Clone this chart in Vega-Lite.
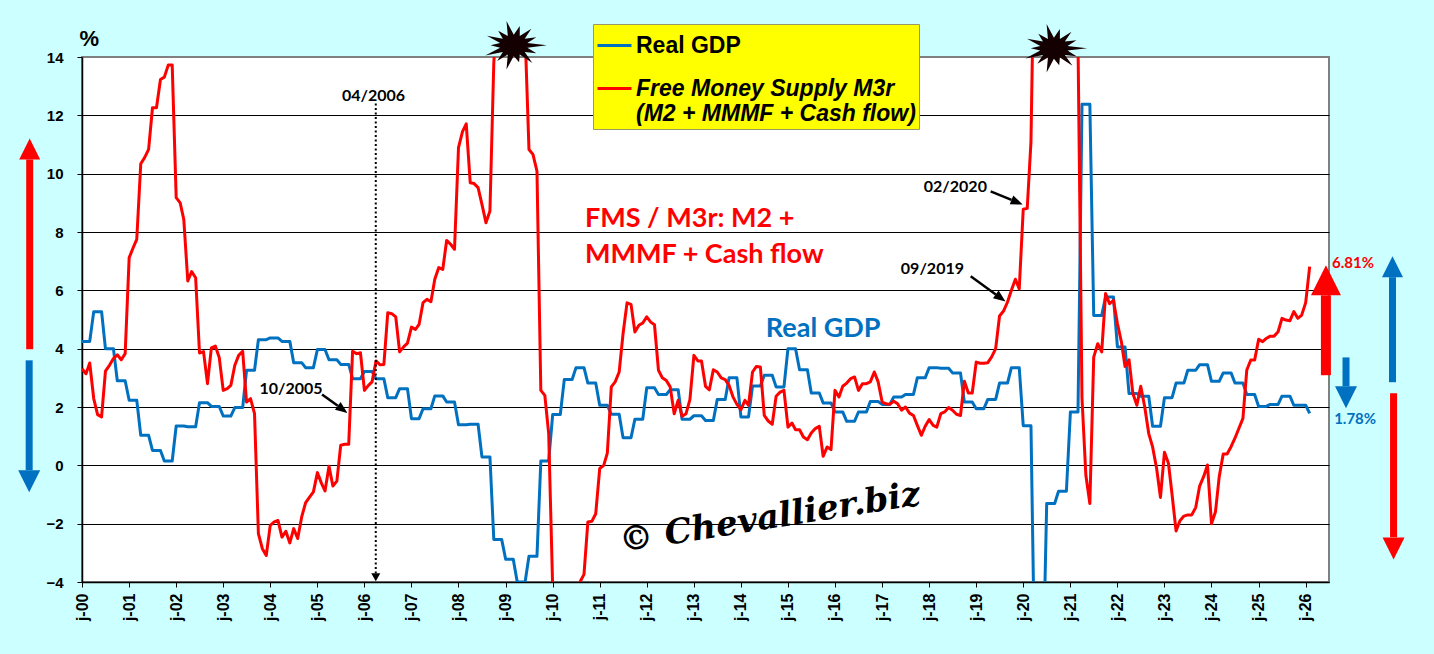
{
  "$schema": "https://vega.github.io/schema/vega-lite/v6.json",
  "width": 1247,
  "height": 525,
  "autosize": {"type": "none"},
  "padding": {"left": 82, "top": 57, "right": 105, "bottom": 72},
  "datasets": {
    "series": [
      {"m":"2000-01","gdp":4.25,"fms":3.31},{"m":"2000-02","gdp":4.25,"fms":3.14},{"m":"2000-03","gdp":4.25,"fms":3.51},
      {"m":"2000-04","gdp":5.27,"fms":2.29},{"m":"2000-05","gdp":5.27,"fms":1.74},{"m":"2000-06","gdp":5.27,"fms":1.66},
      {"m":"2000-07","gdp":4.0,"fms":3.23},{"m":"2000-08","gdp":4.0,"fms":3.43},{"m":"2000-09","gdp":4.0,"fms":3.66},
      {"m":"2000-10","gdp":2.9,"fms":3.79},{"m":"2000-11","gdp":2.9,"fms":3.62},{"m":"2000-12","gdp":2.9,"fms":3.83},
      {"m":"2001-01","gdp":2.23,"fms":7.12},{"m":"2001-02","gdp":2.23,"fms":7.46},{"m":"2001-03","gdp":2.23,"fms":7.75},
      {"m":"2001-04","gdp":1.03,"fms":10.34},{"m":"2001-05","gdp":1.03,"fms":10.55},{"m":"2001-06","gdp":1.03,"fms":10.83},
      {"m":"2001-07","gdp":0.51,"fms":12.26},{"m":"2001-08","gdp":0.51,"fms":12.26},{"m":"2001-09","gdp":0.51,"fms":13.23},
      {"m":"2001-10","gdp":0.15,"fms":13.31},{"m":"2001-11","gdp":0.15,"fms":13.73},{"m":"2001-12","gdp":0.15,"fms":13.73},
      {"m":"2002-01","gdp":1.35,"fms":9.18},{"m":"2002-02","gdp":1.35,"fms":9.0},{"m":"2002-03","gdp":1.35,"fms":8.43},
      {"m":"2002-04","gdp":1.32,"fms":6.32},{"m":"2002-05","gdp":1.32,"fms":6.64},{"m":"2002-06","gdp":1.32,"fms":6.43},
      {"m":"2002-07","gdp":2.15,"fms":3.85},{"m":"2002-08","gdp":2.15,"fms":3.9},{"m":"2002-09","gdp":2.15,"fms":2.8},
      {"m":"2002-10","gdp":2.02,"fms":4.03},{"m":"2002-11","gdp":2.02,"fms":4.09},{"m":"2002-12","gdp":2.02,"fms":3.7},
      {"m":"2003-01","gdp":1.69,"fms":2.57},{"m":"2003-02","gdp":1.69,"fms":2.63},{"m":"2003-03","gdp":1.69,"fms":2.74},
      {"m":"2003-04","gdp":1.98,"fms":3.43},{"m":"2003-05","gdp":1.98,"fms":3.77},{"m":"2003-06","gdp":1.98,"fms":3.91},
      {"m":"2003-07","gdp":3.26,"fms":2.17},{"m":"2003-08","gdp":3.26,"fms":2.29},{"m":"2003-09","gdp":3.26,"fms":1.77},
      {"m":"2003-10","gdp":4.31,"fms":-2.34},{"m":"2003-11","gdp":4.31,"fms":-2.86},{"m":"2003-12","gdp":4.31,"fms":-3.09},
      {"m":"2004-01","gdp":4.37,"fms":-2.06},{"m":"2004-02","gdp":4.37,"fms":-1.94},{"m":"2004-03","gdp":4.37,"fms":-1.89},
      {"m":"2004-04","gdp":4.25,"fms":-2.46},{"m":"2004-05","gdp":4.25,"fms":-2.26},{"m":"2004-06","gdp":4.25,"fms":-2.66},
      {"m":"2004-07","gdp":3.52,"fms":-2.17},{"m":"2004-08","gdp":3.52,"fms":-2.51},{"m":"2004-09","gdp":3.52,"fms":-1.77},
      {"m":"2004-10","gdp":3.35,"fms":-1.29},{"m":"2004-11","gdp":3.35,"fms":-1.09},{"m":"2004-12","gdp":3.35,"fms":-0.91},
      {"m":"2005-01","gdp":3.97,"fms":-0.25},{"m":"2005-02","gdp":3.97,"fms":-0.61},{"m":"2005-03","gdp":3.97,"fms":-0.88},
      {"m":"2005-04","gdp":3.62,"fms":-0.03},{"m":"2005-05","gdp":3.62,"fms":-0.71},{"m":"2005-06","gdp":3.62,"fms":-0.54},
      {"m":"2005-07","gdp":3.46,"fms":0.69},{"m":"2005-08","gdp":3.46,"fms":0.72},{"m":"2005-09","gdp":3.46,"fms":0.72},
      {"m":"2005-10","gdp":2.97,"fms":3.91},{"m":"2005-11","gdp":2.97,"fms":3.83},{"m":"2005-12","gdp":2.97,"fms":3.86},
      {"m":"2006-01","gdp":3.22,"fms":2.57},{"m":"2006-02","gdp":3.22,"fms":2.74},{"m":"2006-03","gdp":3.22,"fms":2.86},
      {"m":"2006-04","gdp":2.97,"fms":3.58},{"m":"2006-05","gdp":2.97,"fms":3.45},{"m":"2006-06","gdp":2.97,"fms":3.46},
      {"m":"2006-07","gdp":2.32,"fms":5.23},{"m":"2006-08","gdp":2.32,"fms":5.2},{"m":"2006-09","gdp":2.32,"fms":5.09},
      {"m":"2006-10","gdp":2.63,"fms":3.89},{"m":"2006-11","gdp":2.63,"fms":4.06},{"m":"2006-12","gdp":2.63,"fms":4.19},
      {"m":"2007-01","gdp":1.6,"fms":4.74},{"m":"2007-02","gdp":1.6,"fms":4.66},{"m":"2007-03","gdp":1.6,"fms":4.83},
      {"m":"2007-04","gdp":1.94,"fms":5.58},{"m":"2007-05","gdp":1.94,"fms":5.69},{"m":"2007-06","gdp":1.94,"fms":5.61},
      {"m":"2007-07","gdp":2.38,"fms":6.38},{"m":"2007-08","gdp":2.38,"fms":6.78},{"m":"2007-09","gdp":2.38,"fms":6.72},
      {"m":"2007-10","gdp":2.17,"fms":7.71},{"m":"2007-11","gdp":2.17,"fms":7.58},{"m":"2007-12","gdp":2.17,"fms":7.41},
      {"m":"2008-01","gdp":1.39,"fms":10.89},{"m":"2008-02","gdp":1.39,"fms":11.44},{"m":"2008-03","gdp":1.39,"fms":11.71},
      {"m":"2008-04","gdp":1.41,"fms":9.69},{"m":"2008-05","gdp":1.41,"fms":9.66},{"m":"2008-06","gdp":1.41,"fms":9.52},
      {"m":"2008-07","gdp":0.29,"fms":8.95},{"m":"2008-08","gdp":0.29,"fms":8.32},{"m":"2008-09","gdp":0.29,"fms":8.72},
      {"m":"2008-10","gdp":-2.54,"fms":13.8},{"m":"2008-11","gdp":-2.54,"fms":16},{"m":"2008-12","gdp":-2.54,"fms":18},
      {"m":"2009-01","gdp":-3.22,"fms":18.5},{"m":"2009-02","gdp":-3.22,"fms":18.5},{"m":"2009-03","gdp":-3.22,"fms":18},
      {"m":"2009-04","gdp":-4.0,"fms":17.5},{"m":"2009-05","gdp":-4.0,"fms":16.5},{"m":"2009-06","gdp":-4.0,"fms":14.8},
      {"m":"2009-07","gdp":-3.12,"fms":10.83},{"m":"2009-08","gdp":-3.12,"fms":10.66},{"m":"2009-09","gdp":-3.12,"fms":10.09},
      {"m":"2009-10","gdp":0.15,"fms":2.57},{"m":"2009-11","gdp":0.15,"fms":2.4},{"m":"2009-12","gdp":0.15,"fms":1.09},
      {"m":"2010-01","gdp":1.74,"fms":-4.2},{"m":"2010-02","gdp":1.74,"fms":-6},{"m":"2010-03","gdp":1.74,"fms":-7},
      {"m":"2010-04","gdp":2.94,"fms":-7},{"m":"2010-05","gdp":2.94,"fms":-6.5},{"m":"2010-06","gdp":2.94,"fms":-6},
      {"m":"2010-07","gdp":3.35,"fms":-5},{"m":"2010-08","gdp":3.35,"fms":-4.0},{"m":"2010-09","gdp":3.35,"fms":-3.74},
      {"m":"2010-10","gdp":2.82,"fms":-1.94},{"m":"2010-11","gdp":2.82,"fms":-1.92},{"m":"2010-12","gdp":2.82,"fms":-1.66},
      {"m":"2011-01","gdp":2.06,"fms":-0.11},{"m":"2011-02","gdp":2.06,"fms":0.0},{"m":"2011-03","gdp":2.06,"fms":0.42},
      {"m":"2011-04","gdp":1.75,"fms":2.69},{"m":"2011-05","gdp":1.75,"fms":2.86},{"m":"2011-06","gdp":1.75,"fms":3.2},
      {"m":"2011-07","gdp":0.95,"fms":4.51},{"m":"2011-08","gdp":0.95,"fms":5.57},{"m":"2011-09","gdp":0.95,"fms":5.52},
      {"m":"2011-10","gdp":1.58,"fms":4.57},{"m":"2011-11","gdp":1.58,"fms":4.8},{"m":"2011-12","gdp":1.58,"fms":4.88},
      {"m":"2012-01","gdp":2.66,"fms":5.09},{"m":"2012-02","gdp":2.66,"fms":4.91},{"m":"2012-03","gdp":2.66,"fms":4.82},
      {"m":"2012-04","gdp":2.43,"fms":3.26},{"m":"2012-05","gdp":2.43,"fms":3.0},{"m":"2012-06","gdp":2.43,"fms":2.91},
      {"m":"2012-07","gdp":2.59,"fms":2.69},{"m":"2012-08","gdp":2.59,"fms":1.77},{"m":"2012-09","gdp":2.59,"fms":2.23},
      {"m":"2012-10","gdp":1.58,"fms":1.68},{"m":"2012-11","gdp":1.58,"fms":1.77},{"m":"2012-12","gdp":1.58,"fms":2.25},
      {"m":"2013-01","gdp":1.7,"fms":3.77},{"m":"2013-02","gdp":1.7,"fms":3.58},{"m":"2013-03","gdp":1.7,"fms":3.58},
      {"m":"2013-04","gdp":1.54,"fms":2.71},{"m":"2013-05","gdp":1.54,"fms":2.59},{"m":"2013-06","gdp":1.54,"fms":3.28},
      {"m":"2013-07","gdp":2.26,"fms":3.2},{"m":"2013-08","gdp":2.26,"fms":3.0},{"m":"2013-09","gdp":2.26,"fms":2.94},
      {"m":"2013-10","gdp":3.0,"fms":2.74},{"m":"2013-11","gdp":3.0,"fms":2.34},{"m":"2013-12","gdp":3.0,"fms":2.09},
      {"m":"2014-01","gdp":1.66,"fms":1.91},{"m":"2014-02","gdp":1.66,"fms":2.23},{"m":"2014-03","gdp":1.66,"fms":2.06},
      {"m":"2014-04","gdp":2.72,"fms":3.2},{"m":"2014-05","gdp":2.72,"fms":3.39},{"m":"2014-06","gdp":2.72,"fms":3.37},
      {"m":"2014-07","gdp":3.09,"fms":1.71},{"m":"2014-08","gdp":3.09,"fms":1.52},{"m":"2014-09","gdp":3.09,"fms":1.41},
      {"m":"2014-10","gdp":2.69,"fms":2.37},{"m":"2014-11","gdp":2.69,"fms":2.51},{"m":"2014-12","gdp":2.69,"fms":2.57},
      {"m":"2015-01","gdp":4.0,"fms":1.31},{"m":"2015-02","gdp":4.0,"fms":1.45},{"m":"2015-03","gdp":4.0,"fms":1.22},
      {"m":"2015-04","gdp":3.28,"fms":1.22},{"m":"2015-05","gdp":3.28,"fms":0.97},{"m":"2015-06","gdp":3.28,"fms":0.88},
      {"m":"2015-07","gdp":2.48,"fms":1.11},{"m":"2015-08","gdp":2.48,"fms":1.26},{"m":"2015-09","gdp":2.48,"fms":1.34},
      {"m":"2015-10","gdp":2.14,"fms":0.31},{"m":"2015-11","gdp":2.14,"fms":0.63},{"m":"2015-12","gdp":2.14,"fms":0.54},
      {"m":"2016-01","gdp":1.83,"fms":2.57},{"m":"2016-02","gdp":1.83,"fms":2.34},{"m":"2016-03","gdp":1.83,"fms":2.71},
      {"m":"2016-04","gdp":1.51,"fms":2.82},{"m":"2016-05","gdp":1.51,"fms":2.97},{"m":"2016-06","gdp":1.51,"fms":3.03},
      {"m":"2016-07","gdp":1.83,"fms":2.57},{"m":"2016-08","gdp":1.83,"fms":2.8},{"m":"2016-09","gdp":1.83,"fms":2.8},
      {"m":"2016-10","gdp":2.19,"fms":2.86},{"m":"2016-11","gdp":2.19,"fms":3.2},{"m":"2016-12","gdp":2.19,"fms":2.86},
      {"m":"2017-01","gdp":2.09,"fms":2.17},{"m":"2017-02","gdp":2.09,"fms":2.11},{"m":"2017-03","gdp":2.09,"fms":2.09},
      {"m":"2017-04","gdp":2.34,"fms":2.2},{"m":"2017-05","gdp":2.34,"fms":2.11},{"m":"2017-06","gdp":2.34,"fms":1.89},
      {"m":"2017-07","gdp":2.43,"fms":2.0},{"m":"2017-08","gdp":2.43,"fms":1.79},{"m":"2017-09","gdp":2.43,"fms":1.71},
      {"m":"2017-10","gdp":3.0,"fms":1.37},{"m":"2017-11","gdp":3.0,"fms":1.03},{"m":"2017-12","gdp":3.0,"fms":1.34},
      {"m":"2018-01","gdp":3.35,"fms":1.57},{"m":"2018-02","gdp":3.35,"fms":1.37},{"m":"2018-03","gdp":3.35,"fms":1.31},
      {"m":"2018-04","gdp":3.33,"fms":1.77},{"m":"2018-05","gdp":3.33,"fms":1.83},{"m":"2018-06","gdp":3.33,"fms":1.98},
      {"m":"2018-07","gdp":3.17,"fms":1.89},{"m":"2018-08","gdp":3.17,"fms":1.75},{"m":"2018-09","gdp":3.17,"fms":1.71},
      {"m":"2018-10","gdp":2.17,"fms":2.88},{"m":"2018-11","gdp":2.17,"fms":2.48},{"m":"2018-12","gdp":2.17,"fms":2.48},
      {"m":"2019-01","gdp":1.94,"fms":3.54},{"m":"2019-02","gdp":1.94,"fms":3.5},{"m":"2019-03","gdp":1.94,"fms":3.5},
      {"m":"2019-04","gdp":2.26,"fms":3.52},{"m":"2019-05","gdp":2.26,"fms":3.72},{"m":"2019-06","gdp":2.26,"fms":4.0},
      {"m":"2019-07","gdp":2.82,"fms":5.12},{"m":"2019-08","gdp":2.82,"fms":5.29},{"m":"2019-09","gdp":2.82,"fms":5.6},
      {"m":"2019-10","gdp":3.35,"fms":6.0},{"m":"2019-11","gdp":3.35,"fms":6.38},{"m":"2019-12","gdp":3.35,"fms":6.05},
      {"m":"2020-01","gdp":1.36,"fms":8.78},{"m":"2020-02","gdp":1.36,"fms":8.81},{"m":"2020-03","gdp":1.36,"fms":11.1},
      {"m":"2020-04","gdp":-7.5,"fms":19.5},{"m":"2020-05","gdp":-7.5,"fms":22},{"m":"2020-06","gdp":-7.5,"fms":24},
      {"m":"2020-07","gdp":-1.31,"fms":25},{"m":"2020-08","gdp":-1.31,"fms":26},{"m":"2020-09","gdp":-1.31,"fms":25},
      {"m":"2020-10","gdp":-0.89,"fms":24},{"m":"2020-11","gdp":-0.89,"fms":22},{"m":"2020-12","gdp":-0.89,"fms":20},
      {"m":"2021-01","gdp":1.83,"fms":18},{"m":"2021-02","gdp":1.83,"fms":16},{"m":"2021-03","gdp":1.83,"fms":14.5},
      {"m":"2021-04","gdp":12.38,"fms":2.3},{"m":"2021-05","gdp":12.38,"fms":-0.34},{"m":"2021-06","gdp":12.38,"fms":-1.31},
      {"m":"2021-07","gdp":5.14,"fms":3.71},{"m":"2021-08","gdp":5.14,"fms":4.17},{"m":"2021-09","gdp":5.14,"fms":3.89},
      {"m":"2021-10","gdp":5.77,"fms":5.89},{"m":"2021-11","gdp":5.77,"fms":5.54},{"m":"2021-12","gdp":5.77,"fms":5.66},
      {"m":"2022-01","gdp":4.06,"fms":4.86},{"m":"2022-02","gdp":4.06,"fms":4.23},{"m":"2022-03","gdp":4.06,"fms":3.39},
      {"m":"2022-04","gdp":2.46,"fms":3.62},{"m":"2022-05","gdp":2.46,"fms":2.46},{"m":"2022-06","gdp":2.46,"fms":2.06},
      {"m":"2022-07","gdp":2.37,"fms":2.71},{"m":"2022-08","gdp":2.37,"fms":2.0},{"m":"2022-09","gdp":2.37,"fms":1.09},
      {"m":"2022-10","gdp":1.34,"fms":0.63},{"m":"2022-11","gdp":1.34,"fms":-0.1},{"m":"2022-12","gdp":1.34,"fms":-1.1},
      {"m":"2023-01","gdp":2.32,"fms":0.45},{"m":"2023-02","gdp":2.32,"fms":0.07},{"m":"2023-03","gdp":2.32,"fms":-1.0},
      {"m":"2023-04","gdp":2.82,"fms":-2.25},{"m":"2023-05","gdp":2.82,"fms":-1.9},{"m":"2023-06","gdp":2.82,"fms":-1.74},
      {"m":"2023-07","gdp":3.26,"fms":-1.7},{"m":"2023-08","gdp":3.26,"fms":-1.7},{"m":"2023-09","gdp":3.26,"fms":-1.44},
      {"m":"2023-10","gdp":3.45,"fms":-0.71},{"m":"2023-11","gdp":3.45,"fms":-0.39},{"m":"2023-12","gdp":3.45,"fms":0.01},
      {"m":"2024-01","gdp":2.88,"fms":-2.0},{"m":"2024-02","gdp":2.88,"fms":-1.59},{"m":"2024-03","gdp":2.88,"fms":-0.39},
      {"m":"2024-04","gdp":3.17,"fms":0.39},{"m":"2024-05","gdp":3.17,"fms":0.39},{"m":"2024-06","gdp":3.17,"fms":0.64},
      {"m":"2024-07","gdp":2.82,"fms":0.93},{"m":"2024-08","gdp":2.82,"fms":1.27},{"m":"2024-09","gdp":2.82,"fms":1.61},
      {"m":"2024-10","gdp":2.43,"fms":3.27},{"m":"2024-11","gdp":2.43,"fms":3.61},{"m":"2024-12","gdp":2.43,"fms":3.61},
      {"m":"2025-01","gdp":2.02,"fms":4.32},{"m":"2025-02","gdp":2.02,"fms":4.24},{"m":"2025-03","gdp":2.02,"fms":4.35},
      {"m":"2025-04","gdp":2.09,"fms":4.43},{"m":"2025-05","gdp":2.09,"fms":4.43},{"m":"2025-06","gdp":2.09,"fms":4.58},
      {"m":"2025-07","gdp":2.37,"fms":5.04},{"m":"2025-08","gdp":2.37,"fms":4.98},{"m":"2025-09","gdp":2.37,"fms":4.96},
      {"m":"2025-10","gdp":2.06,"fms":5.27},{"m":"2025-11","gdp":2.06,"fms":5.04},{"m":"2025-12","gdp":2.06,"fms":5.15},
      {"m":"2026-01","gdp":2.06,"fms":5.58},{"m":"2026-02","gdp":1.78,"fms":6.81}
    ],
    "notes": [
      {"k":"small","d":"2006-03-12","v":12.49,"t":"04/2006"},
      {"k":"small","d":"2004-06-10","v":2.43,"t":"10/2005"},
      {"k":"small","d":"2018-01-26","v":6.57,"t":"09/2019"},
      {"k":"small","d":"2018-07-23","v":9.37,"t":"02/2020"},
      {"k":"red","d":"2010-09-08","v":8.17,"t":"FMS / M3r: M2 +"},
      {"k":"red","d":"2010-09-08","v":6.94,"t":"MMMF + Cash flow"},
      {"k":"blue","d":"2014-07-13","v":4.4,"t":"Real GDP"},
      {"k":"pr","d":"2026-07-24","v":6.75,"t":"6.81%"},
      {"k":"pb","d":"2026-08-10","v":1.41,"t":"1.78%"},
      {"k":"wm","d":"2014-08-14","v":-1.82,"t":"© Chevallier.biz"}
    ],
    "arrows": [
      {"a":"10/2005","d":"2005-02-06","v":2.43,"d2":"2005-06-08","v2":2.04},
      {"a":"09/2019","d":"2018-11-19","v":6.48,"d2":"2019-06-02","v2":5.86},
      {"a":"02/2020","d":"2019-04-23","v":9.39,"d2":"2019-10-02","v2":9.1},
      {"a":"04/2006","d":"2006-03-30","v":12.41,"d2":"2006-03-30","v2":-3.7}
    ],
    "side": [
      {"k":"up","s":"FMS","d":"1998-11-21","v":3.98,"v2":10.49},
      {"k":"down","s":"Real GDP","d":"1998-11-17","v":3.6,"v2":-0.17},
      {"k":"big","s":"FMS","d":"2026-06-07","v":3.09,"v2":5.83},
      {"k":"down","s":"Real GDP","d":"2026-11-10","v":3.7,"v2":2.71},
      {"k":"up","s":"Real GDP","d":"2027-11-06","v":2.85,"v2":6.45},
      {"k":"down","s":"FMS","d":"2027-11-14","v":2.47,"v2":-2.47}
    ],
    "stars": [
      {"d":"2009-03-05","v":14.4},
      {"d":"2020-08-26","v":14.3}
    ]
  },
  "layer": [
    {
      "data": {"name": "series"},
      "mark": {"type": "line", "clip": true, "strokeWidth": 3, "strokeJoin": "round"},
      "encoding": {
        "x": {
          "field": "m", "type": "temporal",
          "scale": {"domain": [{"year": 2000, "month": 1, "date": 1}, {"year": 2026, "month": 7, "date": 1}]},
          "axis": {
            "title": null, "grid": false,
            "tickCount": {"interval": "year", "step": 1},
            "labelExpr": "'j-' + timeFormat(datum.value, '%y')",
            "labelAngle": 270, "labelFont": "Liberation Sans", "labelFontSize": 16, "labelFontWeight": "bold",
            "labelColor": "black", "labelPadding": 6, "labelOverlap": false, "labelFlush": false, "labelBound": false,
            "domainColor": "black", "domainWidth": 1.5, "tickColor": "black", "tickSize": 5
          }
        },
        "y": {
          "field": "gdp", "type": "quantitative",
          "scale": {"domain": [-4, 14], "nice": false, "zero": false},
          "axis": {
            "title": "%", "values": [-4, -2, 0, 2, 4, 6, 8, 10, 12, 14],
            "grid": true, "gridColor": "black", "gridWidth": 1,
            "gridOpacity": {"condition": {"test": "datum.value == 14", "value": 0}, "value": 1},
            "domainColor": "black", "domainWidth": 1.5, "tickColor": "black", "tickSize": 5,
            "labelFont": "Liberation Sans", "labelFontSize": 15, "labelFontWeight": "bold", "labelColor": "black", "labelPadding": 14,
            "titleAngle": 0, "titleAlign": "left", "titleBaseline": "alphabetic", "titleX": -3, "titleY": -12,
            "titleFont": "Liberation Sans", "titleFontSize": 22, "titleFontWeight": "bold", "titleColor": "black"
          }
        },
        "color": {
          "datum": "Real GDP", "type": "nominal",
          "scale": {"domain": ["Real GDP", "FMS"], "range": ["#0070C0", "#FF0000"]},
          "legend": {
            "title": null, "orient": "none", "legendX": 511, "legendY": -33,
            "fillColor": "#FFFF00", "strokeColor": "#999966", "padding": 3, "rowPadding": 12,
            "symbolType": "stroke", "symbolSize": 1156, "symbolStrokeWidth": 3,
            "labelFont": "Liberation Sans", "labelFontSize": 23, "labelFontWeight": "bold", "labelColor": "black",
            "labelFontStyle": {"expr": "datum.value == 'FMS' ? 'italic' : 'normal'"},
            "labelOffset": 3, "labelLimit": 400,
            "labelExpr": "datum.value == 'FMS' ? ['Free Money Supply M3r', '(M2 + MMMF + Cash flow)'] : 'Real GDP'"
          }
        }
      }
    },
    {
      "data": {"name": "series"},
      "mark": {"type": "line", "clip": true, "strokeWidth": 3, "strokeJoin": "round"},
      "encoding": {
        "x": {"field": "m", "type": "temporal"},
        "y": {"field": "fms", "type": "quantitative"},
        "color": {"datum": "FMS", "type": "nominal"}
      }
    },
    {
      "data": {"name": "stars"},
      "mark": {
        "type": "point", "filled": true, "opacity": 1, "color": "#140000", "size": 4400, "strokeWidth": 0,
        "shape": "M1,0L0.41,0.07L0.68,0.24L0.33,0.2L0.56,0.53L0.18,0.28L0.16,0.51L0,0.32L-0.22,0.73L-0.18,0.28L-0.5,0.47L-0.33,0.2L-0.86,0.31L-0.41,0.07L-0.7,0L-0.41,-0.07L-0.81,-0.29L-0.33,-0.2L-0.47,-0.44L-0.18,-0.28L-0.22,-0.73L0,-0.32L0.18,-0.58L0.18,-0.28L0.53,-0.5L0.33,-0.2L0.68,-0.24L0.41,-0.07Z"
      },
      "encoding": {
        "x": {"field": "d", "type": "temporal"},
        "y": {"field": "v", "type": "quantitative"}
      }
    },
    {
      "data": {"name": "arrows"},
      "transform": [{"filter": "datum.a != '04/2006'"}],
      "mark": {"type": "rule", "color": "black", "strokeWidth": 2.5},
      "encoding": {
        "x": {"field": "d", "type": "temporal"},
        "y": {"field": "v", "type": "quantitative"},
        "x2": {"field": "d2"},
        "y2": {"field": "v2"}
      }
    },
    {
      "data": {"name": "arrows"},
      "transform": [{"filter": "datum.a == '10/2005' || datum.a == '09/2019'"}],
      "mark": {"type": "point", "filled": true, "opacity": 1, "color": "black", "size": 144, "angle": 36, "strokeWidth": 0, "shape": "M2,0L0,-0.8L0,0.8Z"},
      "encoding": {
        "x": {"field": "d2", "type": "temporal"},
        "y": {"field": "v2", "type": "quantitative"}
      }
    },
    {
      "data": {"name": "arrows"},
      "transform": [{"filter": "datum.a == '02/2020'"}],
      "mark": {"type": "point", "filled": true, "opacity": 1, "color": "black", "size": 144, "angle": 22, "strokeWidth": 0, "shape": "M2,0L0,-0.8L0,0.8Z"},
      "encoding": {
        "x": {"field": "d2", "type": "temporal"},
        "y": {"field": "v2", "type": "quantitative"}
      }
    },
    {
      "data": {"name": "arrows"},
      "transform": [{"filter": "datum.a == '04/2006'"}],
      "mark": {"type": "rule", "color": "black", "strokeWidth": 2, "strokeDash": [2, 2.5]},
      "encoding": {
        "x": {"field": "d", "type": "temporal"},
        "y": {"field": "v", "type": "quantitative"},
        "y2": {"field": "v2"}
      }
    },
    {
      "data": {"name": "arrows"},
      "transform": [{"filter": "datum.a == '04/2006'"}],
      "mark": {"type": "point", "filled": true, "opacity": 1, "color": "black", "size": 81, "strokeWidth": 0, "shape": "M0,1.8L1,0L-1,0Z"},
      "encoding": {
        "x": {"field": "d2", "type": "temporal"},
        "y": {"field": "v2", "type": "quantitative"}
      }
    },
    {
      "data": {"name": "side"},
      "transform": [{"filter": "datum.k != 'big'"}],
      "mark": {"type": "rule", "strokeWidth": 7},
      "encoding": {
        "x": {"field": "d", "type": "temporal"},
        "y": {"field": "v", "type": "quantitative"},
        "y2": {"field": "v2"},
        "stroke": {"field": "s", "type": "nominal", "scale": {"domain": ["FMS", "Real GDP"], "range": ["#FF0000", "#0070C0"]}, "legend": null}
      }
    },
    {
      "data": {"name": "side"},
      "transform": [{"filter": "datum.k == 'up'"}],
      "mark": {"type": "point", "filled": true, "opacity": 1, "size": 441, "strokeWidth": 0, "shape": "M0,-2L1,0L-1,0Z"},
      "encoding": {
        "x": {"field": "d", "type": "temporal"},
        "y": {"field": "v2", "type": "quantitative"},
        "fill": {"field": "s", "type": "nominal", "scale": {"domain": ["FMS", "Real GDP"], "range": ["#FF0000", "#0070C0"]}, "legend": null}
      }
    },
    {
      "data": {"name": "side"},
      "transform": [{"filter": "datum.k == 'down'"}],
      "mark": {"type": "point", "filled": true, "opacity": 1, "size": 484, "strokeWidth": 0, "shape": "M0,2L1,0L-1,0Z"},
      "encoding": {
        "x": {"field": "d", "type": "temporal"},
        "y": {"field": "v2", "type": "quantitative"},
        "fill": {"field": "s", "type": "nominal", "legend": null}
      }
    },
    {
      "data": {"name": "side"},
      "transform": [{"filter": "datum.k == 'big'"}],
      "mark": {"type": "rule", "strokeWidth": 10, "color": "#FF0000"},
      "encoding": {
        "x": {"field": "d", "type": "temporal"},
        "y": {"field": "v", "type": "quantitative"},
        "y2": {"field": "v2"}
      }
    },
    {
      "data": {"name": "side"},
      "transform": [{"filter": "datum.k == 'big'"}],
      "mark": {"type": "point", "filled": true, "opacity": 1, "size": 900, "strokeWidth": 0, "color": "#FF0000", "shape": "M0,-2L1,0L-1,0Z"},
      "encoding": {
        "x": {"field": "d", "type": "temporal"},
        "y": {"field": "v2", "type": "quantitative"}
      }
    },
    {
      "data": {"name": "notes"},
      "transform": [{"filter": "datum.k == 'small'"}],
      "mark": {"type": "text", "font": "Lato", "fontWeight": "bold", "fontSize": 16, "align": "center", "baseline": "alphabetic", "color": "black"},
      "encoding": {
        "x": {"field": "d", "type": "temporal"},
        "y": {"field": "v", "type": "quantitative"},
        "text": {"field": "t"}
      }
    },
    {
      "data": {"name": "notes"},
      "transform": [{"filter": "datum.k == 'red'"}],
      "mark": {"type": "text", "font": "Lato", "fontWeight": "bold", "fontSize": 27, "align": "left", "baseline": "alphabetic", "color": "#FF0000"},
      "encoding": {
        "x": {"field": "d", "type": "temporal"},
        "y": {"field": "v", "type": "quantitative"},
        "text": {"field": "t"}
      }
    },
    {
      "data": {"name": "notes"},
      "transform": [{"filter": "datum.k == 'blue'"}],
      "mark": {"type": "text", "font": "Lato", "fontWeight": "bold", "fontSize": 27, "align": "left", "baseline": "alphabetic", "color": "#0070C0"},
      "encoding": {
        "x": {"field": "d", "type": "temporal"},
        "y": {"field": "v", "type": "quantitative"},
        "text": {"field": "t"}
      }
    },
    {
      "data": {"name": "notes"},
      "transform": [{"filter": "datum.k == 'pr'"}],
      "mark": {"type": "text", "font": "Lato", "fontWeight": "bold", "fontSize": 15, "align": "left", "baseline": "alphabetic", "color": "#FF0000"},
      "encoding": {
        "x": {"field": "d", "type": "temporal"},
        "y": {"field": "v", "type": "quantitative"},
        "text": {"field": "t"}
      }
    },
    {
      "data": {"name": "notes"},
      "transform": [{"filter": "datum.k == 'pb'"}],
      "mark": {"type": "text", "font": "Lato", "fontWeight": "bold", "fontSize": 15, "align": "left", "baseline": "alphabetic", "color": "#0070C0"},
      "encoding": {
        "x": {"field": "d", "type": "temporal"},
        "y": {"field": "v", "type": "quantitative"},
        "text": {"field": "t"}
      }
    },
    {
      "data": {"name": "notes"},
      "transform": [{"filter": "datum.k == 'wm'"}],
      "mark": {"type": "text", "font": "DejaVu Serif", "fontStyle": "italic", "fontWeight": "bold", "fontSize": 34, "align": "center", "baseline": "middle", "angle": 351, "color": "black"},
      "encoding": {
        "x": {"field": "d", "type": "temporal"},
        "y": {"field": "v", "type": "quantitative"},
        "text": {"field": "t"}
      }
    }
  ],
  "config": {
    "background": "#CCFFFF",
    "view": {"fill": "white", "stroke": "#808080", "strokeWidth": 2}
  }
}
